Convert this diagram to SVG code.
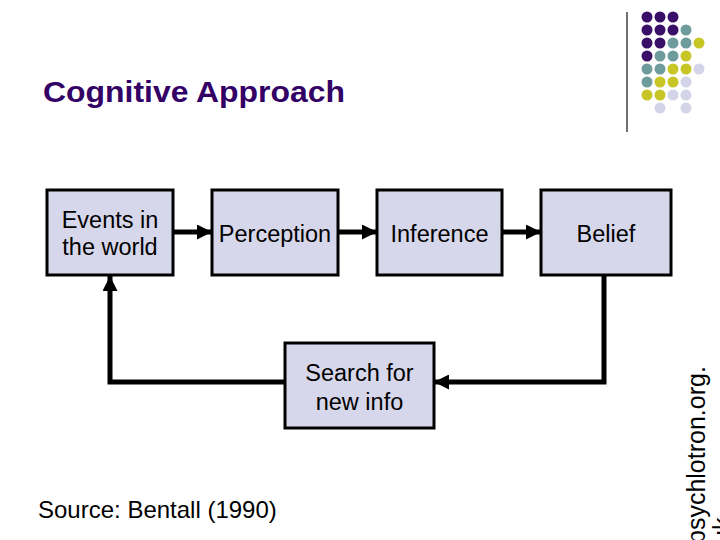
<svg xmlns="http://www.w3.org/2000/svg" width="720" height="540" viewBox="0 0 720 540">
  <style>
    .box { fill: #D7D7EB; stroke: #000; stroke-width: 3; }
    .lbl { font-family: "Liberation Sans", Arial, sans-serif; font-size: 23.5px; fill: #000; text-anchor: middle; }
    .conn { fill: none; stroke: #000; stroke-width: 5; stroke-linejoin: miter; }
    .p { fill: #3A0F68; }
    .t { fill: #6E9B9B; }
    .y { fill: #C8C626; }
    .l { fill: #D4D4E9; }
  </style>
  <defs>
    <marker id="arrow" markerUnits="userSpaceOnUse" markerWidth="15" markerHeight="15" refX="15" refY="7.5" orient="auto">
      <path d="M0,0 L15,7.5 L0,15 Z" fill="#000"/>
    </marker>
  </defs>
  <rect width="720" height="540" fill="#fff"/>

  <g id="decoration">
    <line x1="627" y1="12" x2="627" y2="132" stroke="#222" stroke-width="1.3"/>
    <g id="dots">
      <circle class="p" cx="647" cy="17" r="5.5"/><circle class="p" cx="660" cy="17" r="5.5"/><circle class="p" cx="673" cy="17" r="5.5"/>
      <circle class="p" cx="647" cy="30" r="5.5"/><circle class="p" cx="660" cy="30" r="5.5"/><circle class="p" cx="673" cy="30" r="5.5"/><circle class="t" cx="686" cy="30" r="5.5"/>
      <circle class="p" cx="647" cy="43" r="5.5"/><circle class="p" cx="660" cy="43" r="5.5"/><circle class="t" cx="673" cy="43" r="5.5"/><circle class="t" cx="686" cy="43" r="5.5"/><circle class="y" cx="699" cy="43" r="5.5"/>
      <circle class="p" cx="647" cy="56" r="5.5"/><circle class="t" cx="660" cy="56" r="5.5"/><circle class="t" cx="673" cy="56" r="5.5"/><circle class="y" cx="686" cy="56" r="5.5"/>
      <circle class="t" cx="647" cy="69" r="5.5"/><circle class="t" cx="660" cy="69" r="5.5"/><circle class="y" cx="673" cy="69" r="5.5"/><circle class="y" cx="686" cy="69" r="5.5"/><circle class="l" cx="699" cy="69" r="5.5"/>
      <circle class="t" cx="647" cy="82" r="5.5"/><circle class="y" cx="660" cy="82" r="5.5"/><circle class="y" cx="673" cy="82" r="5.5"/><circle class="l" cx="686" cy="82" r="5.5"/>
      <circle class="y" cx="647" cy="95" r="5.5"/><circle class="y" cx="660" cy="95" r="5.5"/><circle class="l" cx="673" cy="95" r="5.5"/><circle class="l" cx="686" cy="95" r="5.5"/>
      <circle class="l" cx="660" cy="108" r="5.5"/><circle class="l" cx="686" cy="108" r="5.5"/>
    </g>
  </g>

  <text id="title" x="43" y="102" font-family="Liberation Sans, Arial, sans-serif" font-size="29" font-weight="bold" fill="#330066" textLength="302" lengthAdjust="spacingAndGlyphs">Cognitive Approach</text>

  <g id="connectors">
    <path class="conn" d="M173,232 H212" marker-end="url(#arrow)"/>
    <path class="conn" d="M338,232 H377" marker-end="url(#arrow)"/>
    <path class="conn" d="M502,232 H541" marker-end="url(#arrow)"/>
    <path class="conn" d="M604,276 V382 H434" marker-end="url(#arrow)"/>
    <path class="conn" d="M285,382 H110 V276" marker-end="url(#arrow)"/>
  </g>

  <g id="events">
    <rect class="box" x="47" y="190" width="126" height="85"/>
    <text class="lbl" x="110" y="228">Events in</text>
    <text class="lbl" x="110" y="255">the world</text>
  </g>
  <g id="perception">
    <rect class="box" x="212" y="190" width="126" height="85"/>
    <text class="lbl" x="275" y="242">Perception</text>
  </g>
  <g id="inference">
    <rect class="box" x="377" y="190" width="125" height="85"/>
    <text class="lbl" x="439.5" y="242">Inference</text>
  </g>
  <g id="belief">
    <rect class="box" x="541" y="190" width="130" height="85"/>
    <text class="lbl" x="606" y="242">Belief</text>
  </g>
  <g id="search">
    <rect class="box" x="285" y="343" width="149" height="85"/>
    <text class="lbl" x="359.5" y="381">Search for</text>
    <text class="lbl" x="359.5" y="410">new info</text>
  </g>

  <text id="source" x="38" y="518" font-family="Liberation Sans, Arial, sans-serif" font-size="24" fill="#000">Source: Bentall (1990)</text>

  <g id="credit" font-family="Liberation Sans, Arial, sans-serif" font-size="25" fill="#000">
    <text transform="translate(705,544) rotate(-90)">psychlotron.org.</text>
    <text transform="translate(731,544) rotate(-90)">uk</text>
  </g>
</svg>
